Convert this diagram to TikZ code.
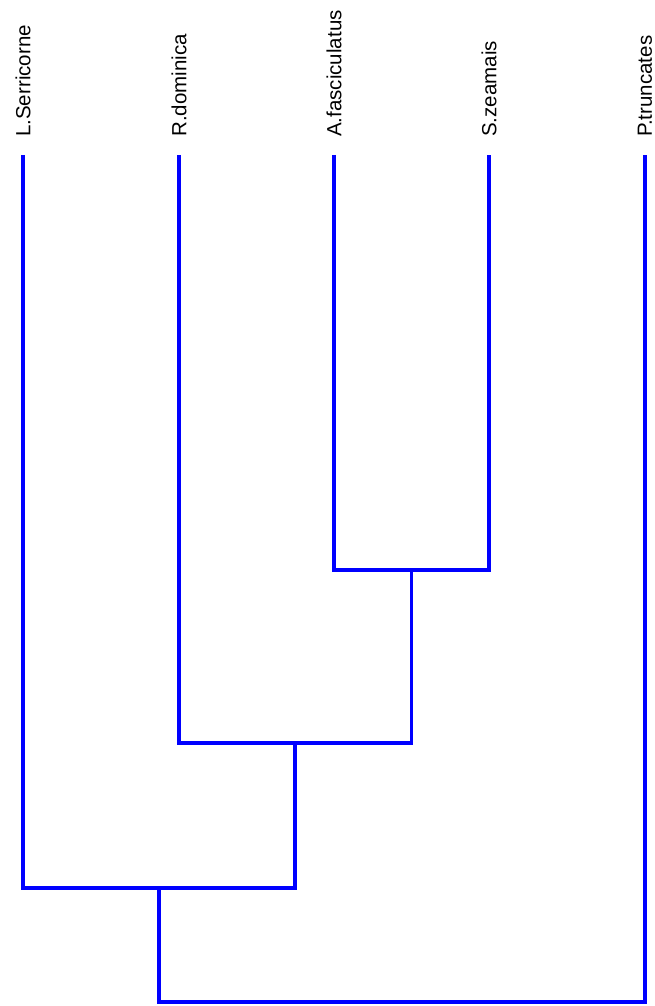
\documentclass[tikz,border=0pt]{standalone}
\usepackage{fontspec}
\setmainfont{Liberation Sans}
\begin{document}
\begin{tikzpicture}[x=1pt,y=1pt,line join=miter,font=\fontsize{20.5}{24}\selectfont]
  \tikzset{branch/.style={draw=blue,line width=3.8pt},
    taxon/.style={rotate=90,anchor=west,inner sep=0pt}}
  \useasboundingbox (0,0) rectangle (655,1006);
  \foreach \name/\x/\lab in {ls/23/L.Serricorne,rd/179/R.dominica,af/334/A.fasciculatus,sz/489/S.zeamais,pt/645/P.truncates}{
    \coordinate (\name) at (\x,851);
    \node[taxon] (\name-lab) at (\x,869) {\lab};
  }
  \coordinate (afsz) at (411.5,436);
  \coordinate (rdas) at (295,263);
  \coordinate (lsrd) at (159,118);
  \coordinate (root) at (402,4);
  \draw[branch] (af) |- (afsz) -| (sz);
  \draw[branch] (rd) |- (rdas) -| (afsz);
  \draw[branch] (ls) |- (lsrd) -| (rdas);
  \draw[branch] (lsrd) |- (root) -| (pt);
\end{tikzpicture}
\end{document}
